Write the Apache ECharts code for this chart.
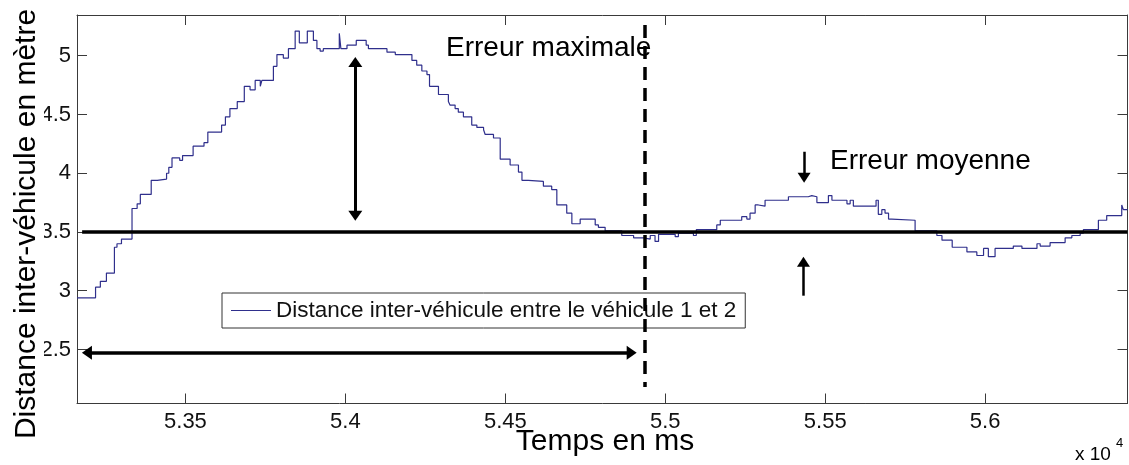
<!DOCTYPE html>
<html>
<head>
<meta charset="utf-8">
<title>Distance inter-véhicule</title>
<script src="https://cdn.jsdelivr.net/npm/echarts@6/dist/echarts.min.js"></script>
<style>
  html, body { margin: 0; padding: 0; background: #fff; }
  #chart { width: 1129px; height: 465px; }
</style>
</head>
<body>
<div id="chart"></div>
<script>
// Sampled inter-vehicle distance (stairs): time in ms, distance in metres.
const timeMs = [53161, 53219, 53234, 53253, 53278, 53286, 53300, 53333, 53349, 53359,
  53393, 53412, 53441, 53448, 53458, 53482, 53491, 53524, 53558, 53570,
  53613, 53625, 53639, 53662, 53684, 53702, 53718, 53734, 53739, 53775,
  53786, 53806, 53822, 53843, 53856, 53881, 53900, 53911, 53921, 53931,
  53981, 53986, 54005, 54034, 54065, 54072, 54130, 54156, 54208, 54223,
  54239, 54255, 54263, 54291, 54322, 54327, 54343, 54353, 54369, 54395,
  54411, 54432, 54437, 54463, 54484, 54515, 54541, 54552, 54572, 54619,
  54645, 54661, 54692, 54708, 54734, 54781, 54791, 54812, 54864, 54901,
  54932, 54953, 54968, 54979, 55031, 55041, 55088, 55097, 55161, 55172,
  55239, 55255, 55265, 55281, 55291, 55312, 55385, 55447, 55458, 55474,
  55510, 55521, 55568, 55578, 55588, 55659, 55666, 55677, 55687, 55698,
  55708, 55781, 55849, 55865, 55897, 55943, 55974, 55995, 56010, 56031,
  56088, 56115, 56162, 56172, 56203, 56250, 56271, 56297, 56307, 56354,
  56380, 56427, 56432, 56445];
const distance = [2.94, 3.03, 3.08, 3.15, 3.37, 3.40, 3.44, 3.70, 3.74, 3.82,
  3.94, 3.95, 4.00, 4.05, 4.13, 4.11, 4.15, 4.23, 4.26, 4.35,
  4.41, 4.48, 4.55, 4.61, 4.74, 4.71, 4.79, 4.74, 4.79, 4.91,
  5.01, 4.98, 5.06, 5.21, 5.11, 5.21, 5.13, 5.06, 5.04, 5.06,
  5.19, 5.06, 5.09, 5.13, 5.09, 5.06, 5.03, 5.01, 4.96, 4.92,
  4.87, 4.84, 4.74, 4.67, 4.61, 4.58, 4.55, 4.52, 4.48, 4.41,
  4.39, 4.37, 4.33, 4.30, 4.12, 4.07, 4.01, 3.94, 3.93, 3.89,
  3.86, 3.73, 3.66, 3.57, 3.61, 3.56, 3.54, 3.51, 3.47, 3.45,
  3.44, 3.47, 3.42, 3.48, 3.46, 3.49, 3.47, 3.52, 3.56, 3.60,
  3.63, 3.61, 3.66, 3.73, 3.72, 3.77, 3.80, 3.81, 3.80, 3.75,
  3.81, 3.77, 3.74, 3.77, 3.72, 3.77, 3.65, 3.69, 3.66, 3.61,
  3.60, 3.51, 3.47, 3.43, 3.37, 3.33, 3.30, 3.36, 3.29, 3.36,
  3.38, 3.36, 3.40, 3.38, 3.41, 3.45, 3.47, 3.49, 3.52, 3.60,
  3.64, 3.73, 3.69, 3.69];

// Axis limits and tick values (x in ms, labelled in units of 10^4 ms).
const xLimits = [53161, 56445];
const yLimits = [2.0404, 5.3468];
const xTickValues = [53500, 54000, 54500, 55000, 55500, 56000];
const yTickValues = [2.5, 3, 3.5, 4, 4.5, 5];

// Annotations, in data units: [time, distance] end points.
const referenceLine = [[53177, 3.5], [56445, 3.5]];
const maxErrorMarker = [[54937, 5.262], [54937, 2.181]];
const maxErrorSpan = [[54031, 4.947], [54031, 3.639]];
const timeSpan = [[53192, 2.473], [54895, 2.473]];
const meanErrorDown = [[55434, 4.183], [55434, 3.962]];
const meanErrorUp = [[55432, 2.958], [55432, 3.247]];

const seriesName = 'Distance inter-véhicule entre le véhicule 1 et 2';
const FONT = "'Liberation Sans', Arial, Helvetica, sans-serif";
const AXIS_COLOR = '#3a3a3a';
const TEXT_COLOR = '#111';
const LINE_COLOR = '#2f2f8c';

const chart = echarts.init(document.getElementById('chart'), null, { renderer: 'canvas' });

function frameAxis(extra) {
  return Object.assign({
    type: 'value',
    axisLine: { show: true, onZero: false, lineStyle: { color: AXIS_COLOR, width: 1 } },
    splitLine: { show: false },
    axisPointer: { show: false }
  }, extra);
}

const arrowHead = { symbol: 'triangle', symbolSize: [14, 10] };
const smallHead = { symbol: 'triangle', symbolSize: [13, 10] };

function segment(points, style, fromSym, toSym) {
  return [
    Object.assign({ coord: points[0], lineStyle: style }, fromSym || { symbol: 'none' }),
    Object.assign({ coord: points[1] }, toSym || { symbol: 'none' })
  ];
}

const option = {
  animation: false,
  backgroundColor: '#fff',
  grid: { left: 77, top: 15, right: 1.5, bottom: 61.5, containLabel: false, outerBoundsMode: 'none' },
  legend: {
    left: 222,
    top: 293,
    padding: [6, 9, 6, 9],
    icon: 'rect',
    itemWidth: 40,
    itemHeight: 1.2,
    itemStyle: { color: LINE_COLOR },
    backgroundColor: '#fff',
    borderColor: '#333',
    borderWidth: 1,
    borderRadius: 0,
    selectedMode: false,
    z: 4,
    textStyle: { fontFamily: FONT, fontSize: 22.5, color: TEXT_COLOR },
    data: [seriesName]
  },
  xAxis: [
    frameAxis({
      min: xLimits[0], max: xLimits[1], position: 'bottom',
      axisTick: { show: true, inside: true, length: 10, customValues: xTickValues, lineStyle: { color: AXIS_COLOR } },
      axisLabel: {
        show: true, customValues: xTickValues, margin: 7,
        fontFamily: FONT, fontSize: 22, color: TEXT_COLOR,
        formatter: v => String(+(v / 10000).toFixed(2))
      }
    }),
    frameAxis({
      min: xLimits[0], max: xLimits[1], position: 'top',
      axisTick: { show: true, inside: true, length: 10, customValues: xTickValues, lineStyle: { color: AXIS_COLOR } },
      axisLabel: { show: false }
    })
  ],
  yAxis: [
    frameAxis({
      min: yLimits[0], max: yLimits[1], position: 'left',
      axisTick: { show: true, inside: true, length: 10, customValues: yTickValues, lineStyle: { color: AXIS_COLOR } },
      axisLabel: {
        show: true, customValues: yTickValues, margin: 6,
        fontFamily: FONT, fontSize: 22, color: TEXT_COLOR,
        formatter: v => String(v)
      }
    }),
    frameAxis({
      min: yLimits[0], max: yLimits[1], position: 'right',
      axisTick: { show: true, inside: true, length: 10, customValues: yTickValues, lineStyle: { color: AXIS_COLOR } },
      axisLabel: { show: false }
    })
  ],
  series: [{
    name: seriesName,
    type: 'line',
    step: 'end',
    symbol: 'none',
    xAxisIndex: 0,
    yAxisIndex: 0,
    lineStyle: { color: LINE_COLOR, width: 1.2 },
    itemStyle: { color: LINE_COLOR },
    emphasis: { disabled: true },
    data: timeMs.map((t, i) => [t, distance[i]]),
    markLine: {
      silent: true,
      animation: false,
      z: 5,
      symbol: ['none', 'none'],
      label: { show: false },
      emphasis: { disabled: true },
      data: [
        segment(referenceLine, { color: '#000', width: 3.5, type: 'solid' }),
        segment(maxErrorMarker, { color: '#000', width: 3.5, type: [13, 8] }),
        segment(maxErrorSpan, { color: '#000', width: 3, type: 'solid' }, arrowHead, arrowHead),
        segment(timeSpan, { color: '#000', width: 3.5, type: 'solid' }, arrowHead, arrowHead),
        segment(meanErrorDown, { color: '#000', width: 2.5, type: 'solid' }, null, smallHead),
        segment(meanErrorUp, { color: '#000', width: 2.5, type: 'solid' }, null, smallHead)
      ]
    }
  }],
  graphic: [
    {
      type: 'text', z: 100, x: 27, y: 224, rotation: Math.PI / 2,
      style: {
        text: 'Distance inter-véhicule en mètre',
        font: '30px ' + FONT, fill: '#000',
        align: 'center', verticalAlign: 'middle',
        backgroundColor: '#fff', lineHeight: 34
      }
    },
    {
      type: 'text', z: 100, x: 605, y: 442,
      style: { text: 'Temps en ms', font: '30px ' + FONT, fill: '#000', align: 'center', verticalAlign: 'middle' }
    },
    {
      type: 'text', z: 100, x: 446, y: 48,
      style: { text: 'Erreur maximale', font: '28px ' + FONT, fill: '#000', align: 'left', verticalAlign: 'middle' }
    },
    {
      type: 'text', z: 100, x: 830, y: 161,
      style: { text: 'Erreur moyenne', font: '28px ' + FONT, fill: '#000', align: 'left', verticalAlign: 'middle' }
    },
    {
      type: 'text', z: 100, x: 1075, y: 455,
      style: { text: 'x 10', font: '19px ' + FONT, fill: '#000', align: 'left', verticalAlign: 'middle' }
    },
    {
      type: 'text', z: 100, x: 1116, y: 443,
      style: { text: '4', font: '13px ' + FONT, fill: '#000', align: 'left', verticalAlign: 'middle' }
    }
  ]
};

chart.setOption(option);
</script>
</body>
</html>
